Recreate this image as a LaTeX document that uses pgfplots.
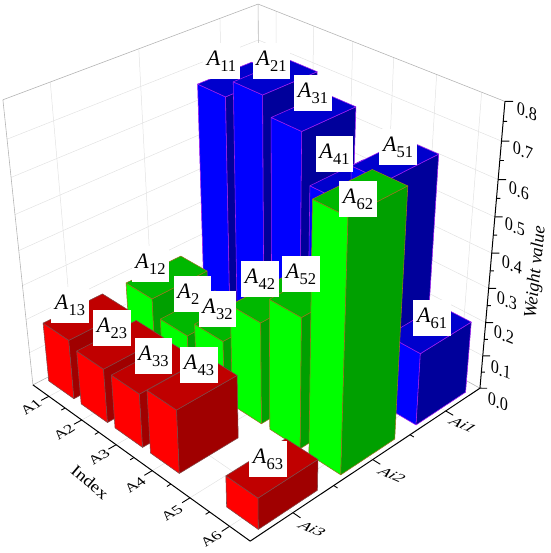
\documentclass[border=0pt]{standalone}
\usepackage{fontspec}
\setmainfont{Liberation Serif}
\usepackage{pgfplots}
\usepackage{pgfplotstable}
\pgfplotsset{compat=1.18}
% heights of the bars: one table for each series (0 = no bar)
\pgfplotstableread{
idx value
1 0.654
2 0.705
3 0.655
4 0.519
5 0.625
6 0.213
}\seriesAione
\pgfplotstableread{
idx value
1 0.176
2 0.128
3 0.178
4 0.298
5 0.378
6 0.697
}\seriesAitwo
\pgfplotstableread{
idx value
1 0.178
2 0.161
3 0.159
4 0.186
5 0
6 0.091
}\seriesAithree
% camera of the chart: u along Index, v along Ai, z = weight value
\newcommand\Pt[4]{%
  \pgfmathsetmacro\wD{1-0.1162*(#2)-0.1104*(#3)-0.0972*(#4)/0.8}%
  \pgfmathsetmacro\wX{(260+164.2*(#2)-230.7*(#3)-27.0*(#4)/0.8)/\wD}%
  \pgfmathsetmacro\wY{553-(267+76.1*(#2)+75.4*(#3)-263.3*(#4)/0.8)/\wD}%
  \expandafter\let\csname #1x\endcsname\wX
  \expandafter\let\csname #1y\endcsname\wY}
\newcommand\WLine[7]{%
  \Pt{pa}{#2}{#3}{#4}\Pt{pb}{#5}{#6}{#7}%
  \addplot[#1,mark=none] coordinates {(\pax,\pay) (\pbx,\pby)};}
\newcommand\Bar[7]{% uc vc value edge front side top
  \pgfmathsetmacro\ua{#1-0.065}\pgfmathsetmacro\ub{#1+0.065}%
  \pgfmathsetmacro\va{#2-0.118}\pgfmathsetmacro\vb{#2+0.118}%
  \Pt{la}{\ua}{\vb}{0}\Pt{fa}{\ub}{\vb}{0}\Pt{ra}{\ub}{\va}{0}%
  \Pt{lt}{\ua}{\vb}{#3}\Pt{ft}{\ub}{\vb}{#3}\Pt{rt}{\ub}{\va}{#3}\Pt{bt}{\ua}{\va}{#3}%
  \addplot[fill=#5,draw=#4,line width=0.55pt,mark=none,line join=round] coordinates {(\lax,\lay)(\fax,\fay)(\ftx,\fty)(\ltx,\lty)(\lax,\lay)};
  \addplot[fill=#6,draw=#4,line width=0.55pt,mark=none,line join=round] coordinates {(\fax,\fay)(\rax,\ray)(\rtx,\rty)(\ftx,\fty)(\fax,\fay)};
  \addplot[fill=#7,draw=#4,line width=0.55pt,mark=none,line join=round] coordinates {(\ltx,\lty)(\ftx,\fty)(\rtx,\rty)(\btx,\bty)(\ltx,\lty)};
}
\newcommand\Series[6]{% table vc edge front side top
  \pgfplotsinvokeforeach{0,...,5}{%
    \pgfplotstablegetelem{##1}{value}\of{#1}%
    \let\hval\pgfplotsretval
    \pgfmathsetmacro\uc{(##1+0.5)/6}%
    \ifdim\hval pt>0pt
      \Bar{\uc}{#2}{\hval}{#3}{#4}{#5}{#6}%
    \fi
  }}
\definecolor{gridc}{RGB}{226,226,226}
\definecolor{edgeB}{RGB}{160,30,240}
\definecolor{edgeG}{RGB}{150,120,30}
\definecolor{edgeR}{RGB}{130,70,70}
\definecolor{bs}{RGB}{0,0,155}\definecolor{bt}{RGB}{0,0,205}
\definecolor{gs}{RGB}{0,160,0}\definecolor{gt}{RGB}{0,184,0}
\definecolor{rs}{RGB}{160,0,0}\definecolor{rt}{RGB}{192,0,0}
\newcommand\Lab[4]{\node[fill=white,inner sep=0pt,minimum width=37.5pt,minimum height=36pt,font=\fontsize{22}{22}\selectfont] at (axis cs:#1,{553-#2}) {\textit{A}\raisebox{-0.28em}{\fontsize{16.5}{16.5}\selectfont #3}};}
\newcommand\TL[6]{\node[inner sep=0pt,transform shape,cm={#3,(0,0)},font=\fontsize{#4}{#4}\selectfont] at (axis cs:#1,{553-#2}) {#5};}
\begin{document}
\begin{tikzpicture}
\begin{axis}[scale only axis,width=550pt,height=553pt,xmin=0,xmax=550,ymin=0,ymax=553,
  axis line style={draw=none},xtick=\empty,ytick=\empty,clip=false]
% grid and box
\foreach \g in {0.08333,0.25,0.41667,0.58333,0.75,0.91667}{%
  \WLine{gridc,line width=0.5pt}{\g}{0}{0}{\g}{1}{0}
  \WLine{gridc,line width=0.5pt}{\g}{0}{0}{\g}{0}{0.8}}
\foreach \g in {0.16667,0.5,0.83333}{%
  \WLine{gridc,line width=0.5pt}{0}{\g}{0}{1}{\g}{0}
  \WLine{gridc,line width=0.5pt}{0}{\g}{0}{0}{\g}{0.8}}
\foreach \g in {0.1,0.2,0.3,0.4,0.5,0.6,0.7}{%
  \WLine{gridc,line width=0.5pt}{0}{1}{\g}{0}{0}{\g}
  \WLine{gridc,line width=0.5pt}{0}{0}{\g}{1}{0}{\g}}
\WLine{gridc!80!black,line width=0.6pt}{0}{1}{0}{0}{1}{0.8}
\WLine{gridc!80!black,line width=0.6pt}{0}{1}{0.8}{0}{0}{0.8}
\WLine{gridc!80!black,line width=0.6pt}{0}{0}{0.8}{1}{0}{0.8}
\WLine{gridc!80!black,line width=0.6pt}{0}{0}{0}{0}{0}{0.8}
\WLine{gridc!80!black,line width=0.6pt}{0}{1}{0}{0}{0}{0}
\WLine{gridc!80!black,line width=0.6pt}{0}{0}{0}{1}{0}{0}
% bars, far to near
\Series{\seriesAione}{0.16667}{edgeB}{blue}{bs}{bt}
\Series{\seriesAitwo}{0.5}{edgeG}{green}{gs}{gt}
\Series{\seriesAithree}{0.83333}{edgeR}{red}{rs}{rt}
% axes and ticks
\WLine{black,line width=1pt}{0}{1}{0}{1}{1}{0}
\WLine{black,line width=1pt}{1}{1}{0}{1}{0}{0}
\WLine{black,line width=1pt}{1}{0}{0}{1}{0}{0.8}
\foreach \g in {0.08333,0.25,0.41667,0.58333,0.75,0.91667}{\WLine{black,line width=0.9pt}{\g}{1}{0}{\g}{1.03}{0}}
\foreach \g in {0.16667,0.33333,0.5,0.66667,0.83333}{\WLine{black,line width=0.9pt}{\g}{1}{0}{\g}{1.015}{0}}
\foreach \g in {0.16667,0.5,0.83333}{\WLine{black,line width=0.9pt}{1}{\g}{0}{1.03}{\g}{0}}
\foreach \g in {0.33333,0.66667}{\WLine{black,line width=0.9pt}{1}{\g}{0}{1.015}{\g}{0}}
\foreach \g in {0,0.1,0.2,0.3,0.4,0.5,0.6,0.7,0.8}{\WLine{black,line width=0.9pt}{1}{0}{\g}{1.016}{-0.016}{\g}}
\foreach \g in {0.05,0.15,0.25,0.35,0.45,0.55,0.65,0.75}{\WLine{black,line width=0.9pt}{1}{0}{\g}{1.008}{-0.008}{\g}}
% tick labels
\TL{31}{407}{0.85,0.55,-0.6,0.55}{17}{A1}{}
\TL{64}{432}{0.85,0.55,-0.6,0.55}{17}{A2}{}
\TL{99}{457}{0.85,0.55,-0.6,0.55}{17}{A3}{}
\TL{135}{485}{0.85,0.55,-0.6,0.55}{17}{A4}{}
\TL{172}{513}{0.85,0.55,-0.6,0.55}{17}{A5}{}
\TL{211}{539}{0.85,0.55,-0.6,0.55}{17}{A6}{}
\TL{463}{425}{0.92,-0.4,0.55,0.55}{18}{\textit{Ai1}}{}
\TL{392}{475}{0.92,-0.4,0.55,0.55}{18}{\textit{Ai2}}{}
\TL{312}{529}{0.92,-0.4,0.55,0.55}{18}{\textit{Ai3}}{}
\TL{498}{402}{0.92,-0.38,0.05,1.05}{17.5}{0.0}{}
\TL{501}{370}{0.92,-0.38,0.05,1.05}{17.5}{0.1}{}
\TL{504}{335}{0.92,-0.38,0.05,1.05}{17.5}{0.2}{}
\TL{507}{301}{0.92,-0.38,0.05,1.05}{17.5}{0.3}{}
\TL{512}{265}{0.92,-0.38,0.05,1.05}{17.5}{0.4}{}
\TL{515}{227}{0.92,-0.38,0.05,1.05}{17.5}{0.5}{}
\TL{519}{191}{0.92,-0.38,0.05,1.05}{17.5}{0.6}{}
\TL{523}{151}{0.92,-0.38,0.05,1.05}{17.5}{0.7}{}
\TL{527}{112}{0.92,-0.38,0.05,1.05}{17.5}{0.8}{}
\TL{90}{482}{0.76,-0.65,0.55,0.65}{19}{Index}{}
\TL{536}{272}{0.1,1,-1,0.1}{18}{\textit{Weight value}}{}
% value labels
\Lab{221.5}{61}{11}{}
\Lab{271.5}{61}{21}{}
\Lab{313}{93}{31}{}
\Lab{334.5}{154}{41}{}
\Lab{398}{147}{51}{}
\Lab{432}{318}{61}{}
\Lab{150.5}{264}{12}{}
\Lab{192.5}{294}{22}{}
\Lab{217.5}{309.5}{32}{}
\Lab{260}{279.5}{42}{}
\Lab{301}{274}{52}{}
\Lab{358}{199.5}{62}{}
\Lab{70}{305}{13}{}
\Lab{112}{328}{23}{}
\Lab{153.5}{356}{33}{}
\Lab{199}{365}{43}{}
\Lab{268}{459}{63}{}
\end{axis}
\end{tikzpicture}
\end{document}
